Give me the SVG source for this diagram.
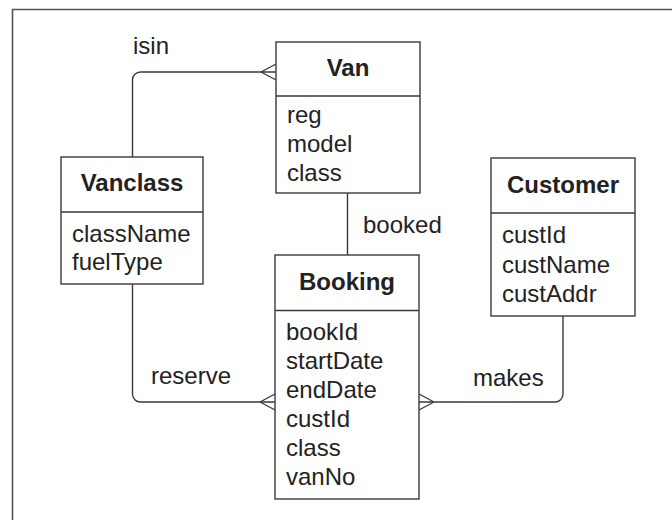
<svg xmlns="http://www.w3.org/2000/svg" width="672" height="520" viewBox="0 0 672 520">
  <style>
    .box { fill: #ffffff; stroke: #3a3a3a; stroke-width: 1.4; }
    .div { stroke: #3a3a3a; stroke-width: 1.4; }
    .title { font-family: "Liberation Sans", Arial, sans-serif; font-size: 24px; font-weight: bold; fill: #222222; text-anchor: middle; }
    .attr { font-family: "Liberation Sans", Arial, sans-serif; font-size: 24px; fill: #222222; }
    .lbl { font-family: "Liberation Sans", Arial, sans-serif; font-size: 24px; fill: #222222; }
    .conn { fill: none; stroke: #3a3a3a; stroke-width: 1.4; }
    .frame { fill: none; stroke: #555555; stroke-width: 1.6; }
  </style>
  <rect width="672" height="520" fill="#ffffff"/>
  <!-- page frame (top and left edges) -->
  <path class="frame" d="M12.5 520 V9.5 H672"/>

  <g id="connectors">
    <!-- isin: Vanclass to Van (many at Van) -->
    <path class="conn" d="M132.5 157 V80 A8 8 0 0 1 140.5 72 H276"/>
    <path class="conn" d="M261 72 L276 64 M261 72 L276 80"/>
    <!-- booked: Van to Booking -->
    <path class="conn" d="M347.5 193 V255"/>
    <!-- reserve: Vanclass to Booking (many at Booking) -->
    <path class="conn" d="M132.5 284 V394 A8 8 0 0 0 140.5 402 H275"/>
    <path class="conn" d="M260 402 L275 394 M260 402 L275 410"/>
    <!-- makes: Customer to Booking (many at Booking) -->
    <path class="conn" d="M563 316 V394 A8 8 0 0 1 555 402 H419"/>
    <path class="conn" d="M434 402 L419 394 M434 402 L419 410"/>
    <text class="lbl" x="133" y="54">isin</text>
    <text class="lbl" x="363" y="233">booked</text>
    <text class="lbl" x="151" y="384">reserve</text>
    <text class="lbl" x="473" y="386">makes</text>
  </g>

  <g id="van">
    <rect class="box" x="276" y="42" width="144" height="151"/>
    <line class="div" x1="276" y1="96" x2="420" y2="96"/>
    <text class="title" x="348" y="76">Van</text>
    <text class="attr" x="287" y="123">reg</text>
    <text class="attr" x="287" y="152">model</text>
    <text class="attr" x="287" y="181">class</text>
  </g>

  <g id="vanclass">
    <rect class="box" x="61" y="157" width="142" height="127"/>
    <line class="div" x1="61" y1="212" x2="203" y2="212"/>
    <text class="title" x="132" y="191">Vanclass</text>
    <text class="attr" x="72" y="241.5">className</text>
    <text class="attr" x="72" y="270">fuelType</text>
  </g>

  <g id="booking">
    <rect class="box" x="275" y="255" width="144" height="244"/>
    <line class="div" x1="275" y1="310.5" x2="419" y2="310.5"/>
    <text class="title" x="347" y="290">Booking</text>
    <text class="attr" x="286" y="339.5">bookId</text>
    <text class="attr" x="286" y="368.5">startDate</text>
    <text class="attr" x="286" y="397.5">endDate</text>
    <text class="attr" x="286" y="426.5">custId</text>
    <text class="attr" x="286" y="455.5">class</text>
    <text class="attr" x="286" y="485">vanNo</text>
  </g>

  <g id="customer">
    <rect class="box" x="491" y="158" width="144" height="158"/>
    <line class="div" x1="491" y1="213" x2="635" y2="213"/>
    <text class="title" x="563" y="193">Customer</text>
    <text class="attr" x="502" y="243">custId</text>
    <text class="attr" x="502" y="272.5">custName</text>
    <text class="attr" x="502" y="301.5">custAddr</text>
  </g>
</svg>
